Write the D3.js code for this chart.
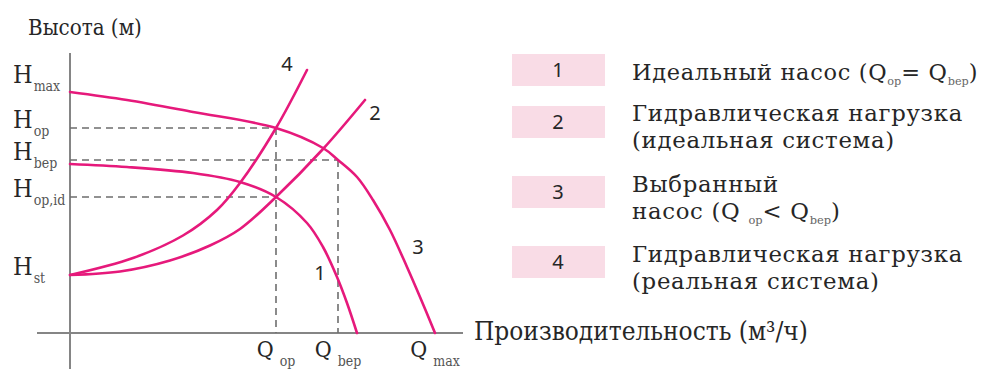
<!DOCTYPE html>
<html><head><meta charset="utf-8">
<script src="https://cdn.jsdelivr.net/npm/d3@7"></script>
<style>
html,body{margin:0;padding:0;background:#fff;}
svg{display:block;}
</style></head>
<body>
<svg id="chart" width="981" height="369"></svg>
<script>
// ---------- data ----------
const curveIds = ["1", "2", "3", "4"];
// curve 1: ideal pump (Q, H)
const pumpIdealQ = [0, 14.25, 30.75, 42.5, 51.5, 59.25, 63.25, 66.75, 69.25, 71.75];
const pumpIdealH = [67.6, 66.4, 64, 60.4, 54.4, 44, 34.4, 22.4, 12, 0];
// curve 2: hydraulic load (ideal system)
const sysIdealQ = [0, 12.5, 25, 35, 42.5, 51.5, 63.25, 73.75];
const sysIdealH = [23.2, 24.6, 29, 35, 41.6, 54.4, 73.6, 93.2];
// curve 3: selected pump
const pumpSelQ = [0, 14.25, 30.75, 51.5, 63.25, 67, 71.75, 75.75, 80, 84.25, 87.5, 91.25];
const pumpSelH = [96.4, 93.2, 88.4, 82, 74, 69.2, 62.4, 53.2, 41.2, 26.4, 14.4, 0];
// curve 4: hydraulic load (real system)
const sysRealQ = [0, 15.75, 28.25, 36.75, 42.5, 51.5, 59.25];
const sysRealH = [23.2, 30, 39, 49.2, 60, 82, 105.2];

// reference levels
const hTickKeys = ["max", "op", "bep", "op,id", "st"];
const hTickValues = [96.4, 82, 69.2, 54.4, 23.2];
const qTickKeys = ["op", "bep", "max"];
const qTickValues = [51.5, 67, 91.25];

const yTitle = "Высота (м)";
const xTitle = "Производительность (м³/ч)";

const legendNumbers = ["1", "2", "3", "4"];
const legendLines = [
  [[["Идеальный насос (Q", 0], ["op", 1], ["= Q", 0], ["bep", 1], [")", 0]]],
  [[["Гидравлическая нагрузка", 0]], [["(идеальная система)", 0]]],
  [[["Выбранный", 0]], [["насос (Q ", 0], ["op", 1], ["< Q", 0], ["bep", 1], [")", 0]]],
  [[["Гидравлическая нагрузка", 0]], [["(реальная система)", 0]]]
];

// ---------- drawing ----------
const svg = d3.select("#chart");
const x = d3.scaleLinear().domain([0, 100]).range([70, 470]);
const y = d3.scaleLinear().domain([0, 100]).range([333, 83]);

const PINK = "#e6197b";
const AXIS = "#858585";
const DASH = "#6e6e6e";
const TXT = "#262626";
const SERIF = "'DejaVu Serif Condensed','DejaVu Serif',serif";
const SERIF_W = "'DejaVu Serif',serif";
const SANS = "'Noto Sans','Open Sans',sans-serif";

// axes
svg.append("line").attr("x1", x(0)).attr("x2", x(0)).attr("y1", 53).attr("y2", 369)
  .attr("stroke", AXIS).attr("stroke-width", 2);
svg.append("line").attr("x1", 37).attr("x2", 463).attr("y1", y(0)).attr("y2", y(0))
  .attr("stroke", AXIS).attr("stroke-width", 2);

// dashed guides
const [hOp, hBep, hOpId] = [hTickValues[1], hTickValues[2], hTickValues[3]];
const [qOp, qBep] = [qTickValues[0], qTickValues[1]];
const guides = [
  [0, hOp, qOp, hOp], [0, hBep, qBep, hBep], [0, hOpId, qOp, hOpId],
  [qOp, hOp, qOp, 0], [qBep, hBep, qBep, 0]
];
svg.append("g").selectAll("line").data(guides).join("line")
  .attr("x1", d => x(d[0])).attr("y1", d => y(d[1]))
  .attr("x2", d => x(d[2])).attr("y2", d => y(d[3]))
  .attr("stroke", DASH).attr("stroke-width", 1.6).attr("stroke-dasharray", "7,5");

// curves
const curves = [
  d3.zip(pumpIdealQ, pumpIdealH),
  d3.zip(sysIdealQ, sysIdealH),
  d3.zip(pumpSelQ, pumpSelH),
  d3.zip(sysRealQ, sysRealH)
];
const lineGen = d3.line().x(d => x(d[0])).y(d => y(d[1])).curve(d3.curveCatmullRom.alpha(0.5));
svg.append("g").selectAll("path").data(curves).join("path")
  .attr("d", d => lineGen(d))
  .attr("fill", "none").attr("stroke", PINK).attr("stroke-width", 2.6)
  .attr("stroke-linecap", "round");

// curve number labels: anchored to a curve point with an offset
const lblAnchor = [[7, -17, -4], [7, 10, 13], [8, 28, 17], [6, -20, -6]];
svg.append("g").selectAll("text").data(curveIds).join("text")
  .attr("x", (d, i) => x(curves[i][lblAnchor[i][0]][0]) + lblAnchor[i][1])
  .attr("y", (d, i) => y(curves[i][lblAnchor[i][0]][1]) + lblAnchor[i][2] + 7)
  .attr("text-anchor", "middle").attr("font-family", SANS).attr("font-size", 20)
  .attr("fill", TXT).text(d => d);

// y tick labels
const yl = svg.append("g").selectAll("text").data(hTickKeys).join("text")
  .attr("x", 13)
  .attr("y", (d, i) => y(hTickValues[i]) + (i === 0 ? -9 : 0))
  .attr("font-family", SERIF).attr("fill", TXT);
yl.append("tspan").attr("font-size", 25).text("H");
yl.append("tspan").attr("font-size", 14).attr("dy", 8).attr("dx", 1).attr("fill", "#555").text(d => d);

// x tick labels
const xl = svg.append("g").selectAll("text").data(qTickKeys).join("text")
  .attr("x", (d, i) => x(qTickValues[i]))
  .attr("y", 357).attr("text-anchor", "middle")
  .attr("font-family", SERIF).attr("fill", TXT);
xl.append("tspan").attr("font-size", 23).text("Q");
xl.append("tspan").attr("font-size", 14).attr("dy", 9).attr("dx", 6).attr("fill", "#555").text(d => d);

// titles
const fit = (sel, target) => {
  const w = sel.node().getComputedTextLength();
  const fs = parseFloat(sel.attr("font-size"));
  sel.attr("font-size", fs * target / w);
};
const yt = svg.append("text").attr("x", 28).attr("y", 35).attr("font-family", SERIF)
  .attr("font-size", 20).attr("fill", TXT).text(yTitle);
fit(yt, 114);
const xt = svg.append("text").attr("x", 474).attr("y", 340).attr("font-family", SERIF)
  .attr("font-size", 20).attr("fill", TXT).text(xTitle);
fit(xt, 334);

// legend
const boxTops = [54, 106, 176, 246];
const baselines = [[80], [121, 148], [192, 219], [262, 289]];
const probeStr = "Гидравлическая нагрузка";
const probe = svg.append("text").attr("font-family", SERIF_W).attr("font-size", 20).text(probeStr);
const legFs = Math.min(22.8, 20 * 331 / probe.node().getComputedTextLength());
probe.attr("font-size", legFs);
const legLS = Math.max(0, (331 - probe.node().getComputedTextLength()) / probeStr.length);
probe.remove();

const lg = svg.append("g");
lg.selectAll("rect").data(legendNumbers).join("rect")
  .attr("x", 512).attr("y", (d, i) => boxTops[i]).attr("width", 93).attr("height", 32)
  .attr("fill", "#f9dce6");
lg.selectAll("text.num").data(legendNumbers).join("text").attr("class", "num")
  .attr("x", 558).attr("y", (d, i) => boxTops[i] + 23)
  .attr("text-anchor", "middle").attr("font-family", SANS).attr("font-size", 20)
  .attr("fill", TXT).text(d => d);
legendLines.forEach((lines, i) => {
  const t = lg.append("text").attr("font-family", SERIF_W).attr("font-size", legFs)
    .attr("letter-spacing", legLS).attr("fill", TXT);
  lines.forEach((segs, j) => {
    let sub = false;
    segs.forEach(([s, isSub], k) => {
      const ts = t.append("tspan").text(s);
      if (k === 0) ts.attr("x", 632).attr("y", baselines[i][j]);
      if (isSub) {
        ts.attr("font-size", legFs * 0.5).attr("fill", "#666").attr("letter-spacing", 0);
        if (!sub) { ts.attr("dy", 5); sub = true; }
      } else if (sub) { ts.attr("dy", -5); sub = false; }
    });
  });
  // keep single-line entries inside the picture (right edge at 978)
  if (lines.length === 1) {
    const w = t.node().getComputedTextLength();
    if (632 + w > 978) {
      const k = (978 - 632) / w;
      t.attr("font-size", legFs * k);
      t.selectAll("tspan").each(function () {
        const fs = d3.select(this).attr("font-size");
        if (fs) d3.select(this).attr("font-size", parseFloat(fs) * k);
      });
    }
  }
});
</script>
</body></html>
